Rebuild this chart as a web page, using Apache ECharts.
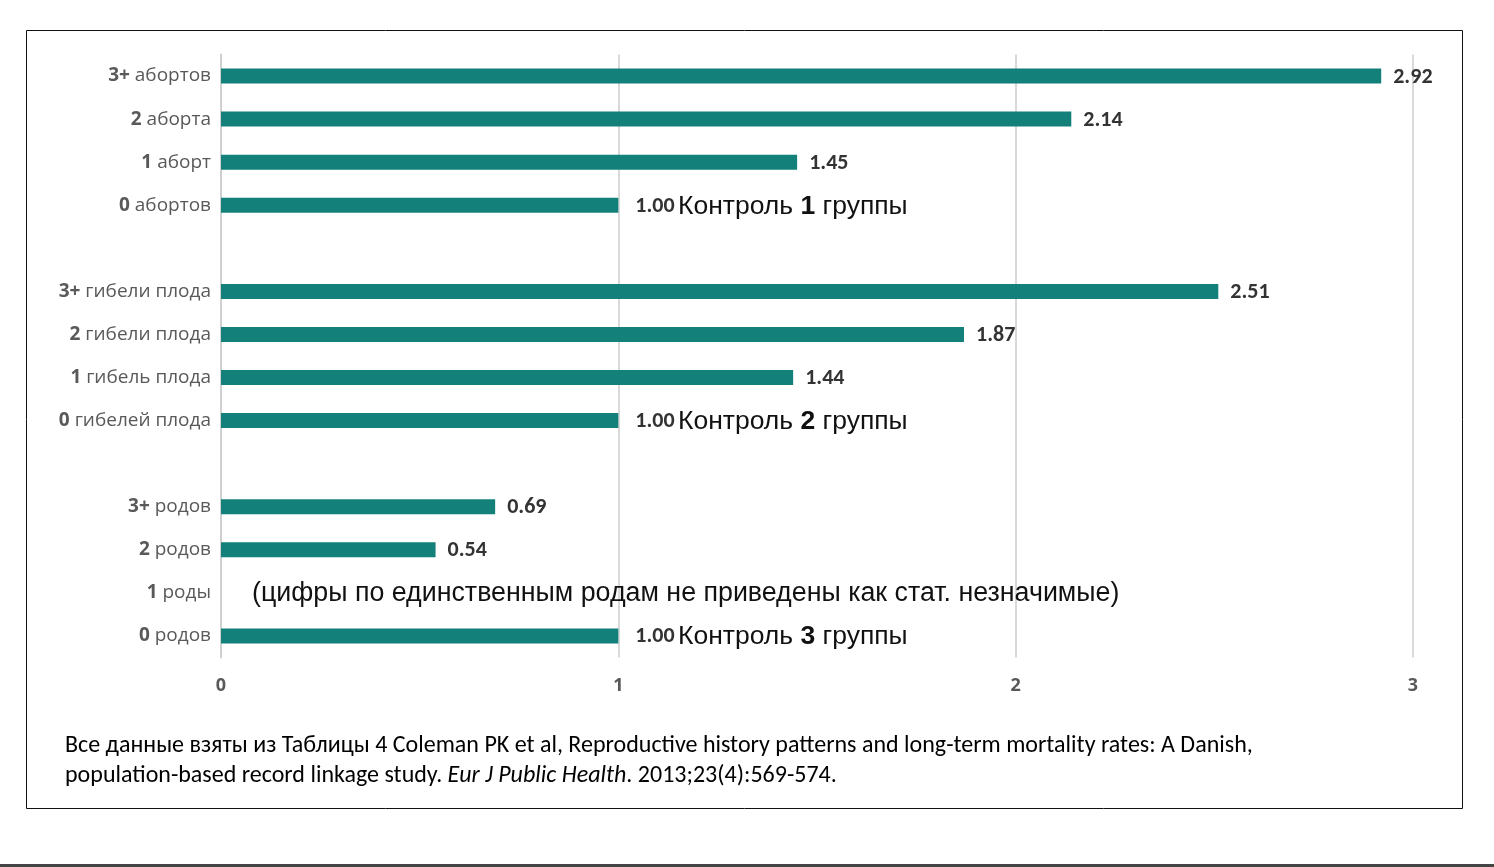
<!DOCTYPE html>
<html><head><meta charset="utf-8">
<script src="https://cdn.jsdelivr.net/npm/echarts@6/dist/echarts.min.js"></script>
<style>html,body{margin:0;padding:0;background:#fff}#c{width:1494px;height:867px}</style>
</head><body><div id="c"></div>
<script>
// categories top to bottom (blank entries = gaps between groups)
const catBold  = ['3+', '2', '1', '0', '', '3+', '2', '1', '0', '', '3+', '2', '1', '0'];
const catText  = ['абортов', 'аборта', 'аборт', 'абортов', '', 'гибели плода', 'гибели плода', 'гибель плода', 'гибелей плода', '', 'родов', 'родов', 'роды', 'родов'];
const values   = [2.92, 2.14, 1.45, 1.00, null, 2.51, 1.87, 1.44, 1.00, null, 0.69, 0.54, null, 1.00];
const controlGroup = [null, null, null, '1', null, null, null, null, '2', null, null, null, null, '3'];
const noteText = '(цифры по единственным родам не приведены как стат. незначимые)';
const noteIndex = 12;
const xTicks = [0, 1, 2, 3];

const categories = catBold.map((b, i) => (b ? b + ' ' + catText[i] : ' '.repeat(i + 1)));
const annFont = 'Arial, "Liberation Sans", sans-serif';
const calFont = 'Carlito, Lato, sans-serif';

const dataItems = values.map((v, i) => {
  if (i === noteIndex) {
    return { value: 0, itemStyle: { color: 'rgba(0,0,0,0)' }, label: { show: true, position: 'right', distance: 0, offset: [31, 1],
      formatter: '{m|' + noteText + '}' } };
  }
  if (v === null) return { value: null, label: { show: false } };
  const g = controlGroup[i];
  if (g) {
    return { value: v, label: { show: true, position: 'right', distance: 17, offset: [0, 1],
      formatter: '{n|' + v.toFixed(2) + '} {k|Контроль }{g|' + g + '}{k| группы}' } };
  }
  return { value: v, label: { show: true, position: 'right', distance: 12, offset: [0, 1], formatter: '{n|' + v.toFixed(2) + '}' } };
});

const chart = echarts.init(document.getElementById('c'), null, { renderer: 'canvas' });
chart.setOption({
  animation: false,
  backgroundColor: '#fff',
  grid: { left: 221, right: 81, top: 54.5, bottom: 209.5, containLabel: false },
  xAxis: {
    type: 'value', min: 0, max: 3, interval: 1,
    axisLine: { show: false }, axisTick: { show: false },
    splitLine: { show: true, lineStyle: { color: '#d9d9d9', width: 2 } },
    axisLabel: { margin: 19, fontFamily: '"Open Sans", sans-serif', fontWeight: 'bold', fontSize: 18, color: '#595959',
      formatter: v => (xTicks.includes(v) ? String(v) : '') }
  },
  yAxis: {
    type: 'category', inverse: true, data: categories,
    axisTick: { show: false },
    axisLine: { show: true, lineStyle: { color: '#d0d0d0', width: 2 } },
    axisLabel: {
      margin: 10, fontFamily: '"Open Sans", sans-serif', fontSize: 19, color: '#595959',
      formatter: (val, idx) => (catBold[idx] ? '{b|' + catBold[idx] + '} ' + catText[idx] : ''),
      rich: { b: { fontWeight: 'bold', fontFamily: '"Open Sans", sans-serif', fontSize: 19, color: '#595959' } }
    }
  },
  series: [{
    type: 'bar', data: dataItems, barWidth: 15,
    itemStyle: { color: '#13807a' },
    label: {
      show: true,
      rich: {
        n: { fontFamily: calFont, fontWeight: 'bold', fontSize: 22, color: '#333' },
        k: { fontFamily: annFont, fontSize: 26.5, color: '#111' },
        g: { fontFamily: annFont, fontWeight: 'bold', fontSize: 26.5, color: '#111' },
        m: { fontFamily: annFont, fontSize: 26.8, color: '#111' }
      }
    }
  }],
  graphic: [
    { type: 'rect', shape: { x: 26.5, y: 30.5, width: 1436, height: 778 }, style: { fill: null, stroke: '#111', lineWidth: 1 }, silent: true },
    { type: 'rect', shape: { x: 0, y: 864, width: 1494, height: 3 }, style: { fill: '#444' }, silent: true },
    { type: 'text', left: 65, top: 734, style: {
      text: '{r|Все данные взяты из Таблицы 4 Coleman PK et al, Reproductive history patterns and long-term mortality rates: A Danish,}\n{r|population-based record linkage study. }{i|Eur J Public Health}{r|. 2013;23(4):569-574.}',
      rich: {
        r: { fontFamily: calFont, fontSize: 24, color: '#000', lineHeight: 30 },
        i: { fontFamily: calFont, fontStyle: 'italic', fontSize: 24, color: '#000', lineHeight: 30 }
      } } }
  ]
});
</script></body></html>
